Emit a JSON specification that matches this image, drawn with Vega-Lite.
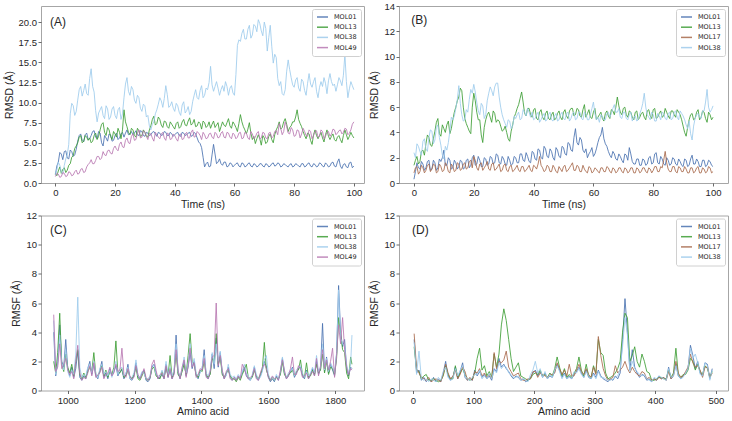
{
"$schema": "https://vega.github.io/schema/vega-lite/v6.json",
"padding": {"left": 3, "top": 0, "right": 2, "bottom": 2},
"config": {
  "font": "Liberation Sans",
  "view": {"stroke": "#a6a6a6", "strokeWidth": 1},
  "axis": {"grid": false, "domain": false, "tickColor": "#444", "tickSize": 3, "tickWidth": 0.8, "labelFontSize": 9.5, "labelColor": "#262626", "labelPadding": 1.5, "titleFontSize": 10.5, "titleFontWeight": "normal", "titleColor": "#262626", "labelFlush": false, "labelOverlap": false},
  "axisX": {"titlePadding": 2},
  "axisY": {"titlePadding": 4},
  "legend": {"orient": "top-right", "offset": 3, "padding": 4, "strokeColor": "#d0d0d0", "fillColor": "#ffffff", "cornerRadius": 2, "labelFont": "DejaVu Sans", "labelFontSize": 6.5, "labelColor": "#262626", "symbolType": "M-1,0H2.67", "symbolSize": 36, "symbolStrokeWidth": 1.5, "labelOffset": 10, "rowPadding": 2.2}
},
"datasets": {
"a": [
{"t":0,"MOL01":1.0,"MOL13":1.2,"MOL38":1.0,"MOL49":0.8},
{"t":1,"MOL01":2.6,"MOL13":1.5,"MOL38":2.6,"MOL49":1.1},
{"t":2,"MOL01":3.6,"MOL13":1.2,"MOL38":1.4,"MOL49":0.8},
{"t":3,"MOL01":3.9,"MOL13":1.9,"MOL38":2.2,"MOL49":1.2},
{"t":4,"MOL01":3.1,"MOL13":1.6,"MOL38":3.5,"MOL49":0.9},
{"t":5,"MOL01":4.1,"MOL13":2.4,"MOL38":8.6,"MOL49":1.3},
{"t":6,"MOL01":3.3,"MOL13":3.4,"MOL38":9.6,"MOL49":1.0},
{"t":7,"MOL01":4.2,"MOL13":4.6,"MOL38":8.9,"MOL49":1.6},
{"t":8,"MOL01":5.9,"MOL13":5.7,"MOL38":11.6,"MOL49":1.2},
{"t":9,"MOL01":5.3,"MOL13":5.0,"MOL38":10.8,"MOL49":1.8},
{"t":10,"MOL01":6.0,"MOL13":5.9,"MOL38":12.3,"MOL49":1.4},
{"t":11,"MOL01":5.4,"MOL13":5.3,"MOL38":10.9,"MOL49":2.3},
{"t":12,"MOL01":5.9,"MOL13":5.0,"MOL38":14.2,"MOL49":2.9},
{"t":13,"MOL01":6.5,"MOL13":5.9,"MOL38":11.3,"MOL49":2.4},
{"t":14,"MOL01":5.5,"MOL13":5.4,"MOL38":7.6,"MOL49":3.3},
{"t":15,"MOL01":6.2,"MOL13":6.6,"MOL38":9.1,"MOL49":2.9},
{"t":16,"MOL01":4.6,"MOL13":7.5,"MOL38":8.4,"MOL49":3.9},
{"t":17,"MOL01":5.6,"MOL13":5.9,"MOL38":9.6,"MOL49":3.4},
{"t":18,"MOL01":6.1,"MOL13":6.6,"MOL38":7.9,"MOL49":4.1},
{"t":19,"MOL01":5.2,"MOL13":5.4,"MOL38":9.2,"MOL49":3.6},
{"t":20,"MOL01":5.9,"MOL13":6.1,"MOL38":8.4,"MOL49":4.6},
{"t":21,"MOL01":5.4,"MOL13":6.8,"MOL38":9.1,"MOL49":4.0},
{"t":22,"MOL01":6.1,"MOL13":5.5,"MOL38":7.9,"MOL49":5.1},
{"t":23,"MOL01":5.7,"MOL13":9.1,"MOL38":10.6,"MOL49":4.4},
{"t":24,"MOL01":6.6,"MOL13":7.0,"MOL38":13.1,"MOL49":5.6},
{"t":25,"MOL01":6.1,"MOL13":6.0,"MOL38":10.9,"MOL49":4.9},
{"t":26,"MOL01":6.0,"MOL13":6.6,"MOL38":11.6,"MOL49":6.1},
{"t":27,"MOL01":6.5,"MOL13":5.7,"MOL38":9.9,"MOL49":5.4},
{"t":28,"MOL01":5.9,"MOL13":6.5,"MOL38":10.6,"MOL49":6.6},
{"t":29,"MOL01":6.4,"MOL13":5.9,"MOL38":8.9,"MOL49":5.7},
{"t":30,"MOL01":5.8,"MOL13":6.3,"MOL38":9.6,"MOL49":6.3},
{"t":31,"MOL01":6.2,"MOL13":5.7,"MOL38":8.4,"MOL49":5.4},
{"t":32,"MOL01":6.0,"MOL13":7.1,"MOL38":6.6,"MOL49":6.1},
{"t":33,"MOL01":6.4,"MOL13":8.3,"MOL38":7.6,"MOL49":5.2},
{"t":34,"MOL01":5.8,"MOL13":7.4,"MOL38":9.1,"MOL49":6.0},
{"t":35,"MOL01":6.2,"MOL13":7.9,"MOL38":10.6,"MOL49":5.5},
{"t":36,"MOL01":6.0,"MOL13":6.9,"MOL38":9.4,"MOL49":6.3},
{"t":37,"MOL01":6.3,"MOL13":7.6,"MOL38":12.1,"MOL49":5.3},
{"t":38,"MOL01":5.9,"MOL13":6.8,"MOL38":9.4,"MOL49":6.1},
{"t":39,"MOL01":6.1,"MOL13":7.3,"MOL38":10.1,"MOL49":5.5},
{"t":40,"MOL01":6.0,"MOL13":6.7,"MOL38":8.9,"MOL49":5.9},
{"t":41,"MOL01":6.3,"MOL13":7.6,"MOL38":9.6,"MOL49":5.2},
{"t":42,"MOL01":5.8,"MOL13":7.0,"MOL38":8.4,"MOL49":6.1},
{"t":43,"MOL01":6.2,"MOL13":7.9,"MOL38":10.1,"MOL49":5.5},
{"t":44,"MOL01":6.0,"MOL13":7.1,"MOL38":9.0,"MOL49":6.3},
{"t":45,"MOL01":6.3,"MOL13":8.1,"MOL38":8.5,"MOL49":5.6},
{"t":46,"MOL01":5.9,"MOL13":7.4,"MOL38":10.1,"MOL49":6.6},
{"t":47,"MOL01":6.1,"MOL13":7.0,"MOL38":11.6,"MOL49":5.8},
{"t":48,"MOL01":5.1,"MOL13":7.6,"MOL38":10.4,"MOL49":6.2},
{"t":49,"MOL01":4.4,"MOL13":6.7,"MOL38":12.1,"MOL49":5.4},
{"t":50,"MOL01":2.0,"MOL13":7.5,"MOL38":10.9,"MOL49":6.0},
{"t":51,"MOL01":2.6,"MOL13":7.1,"MOL38":11.6,"MOL49":5.6},
{"t":52,"MOL01":2.1,"MOL13":6.8,"MOL38":14.5,"MOL49":6.2},
{"t":53,"MOL01":4.8,"MOL13":7.7,"MOL38":11.4,"MOL49":5.5},
{"t":54,"MOL01":2.4,"MOL13":7.2,"MOL38":12.6,"MOL49":6.1},
{"t":55,"MOL01":3.0,"MOL13":6.4,"MOL38":10.9,"MOL49":5.7},
{"t":56,"MOL01":2.2,"MOL13":7.6,"MOL38":12.1,"MOL49":6.4},
{"t":57,"MOL01":2.6,"MOL13":7.0,"MOL38":12.6,"MOL49":5.6},
{"t":58,"MOL01":2.1,"MOL13":8.0,"MOL38":10.9,"MOL49":6.2},
{"t":59,"MOL01":2.4,"MOL13":6.8,"MOL38":12.1,"MOL49":5.5},
{"t":60,"MOL01":2.2,"MOL13":7.3,"MOL38":10.9,"MOL49":6.0},
{"t":61,"MOL01":2.5,"MOL13":6.4,"MOL38":17.1,"MOL49":5.7},
{"t":62,"MOL01":2.0,"MOL13":8.5,"MOL38":17.6,"MOL49":6.3},
{"t":63,"MOL01":2.4,"MOL13":7.0,"MOL38":19.1,"MOL49":5.6},
{"t":64,"MOL01":2.1,"MOL13":6.1,"MOL38":17.9,"MOL49":6.2},
{"t":65,"MOL01":2.5,"MOL13":7.5,"MOL38":19.6,"MOL49":5.4},
{"t":66,"MOL01":2.0,"MOL13":5.4,"MOL38":18.4,"MOL49":6.1},
{"t":67,"MOL01":2.3,"MOL13":4.9,"MOL38":19.5,"MOL49":5.7},
{"t":68,"MOL01":2.1,"MOL13":6.0,"MOL38":20.3,"MOL49":6.4},
{"t":69,"MOL01":2.4,"MOL13":4.7,"MOL38":18.9,"MOL49":5.6},
{"t":70,"MOL01":2.0,"MOL13":5.6,"MOL38":20.0,"MOL49":6.2},
{"t":71,"MOL01":2.3,"MOL13":5.1,"MOL38":16.4,"MOL49":5.5},
{"t":72,"MOL01":2.1,"MOL13":6.1,"MOL38":19.6,"MOL49":6.3},
{"t":73,"MOL01":2.5,"MOL13":5.0,"MOL38":14.9,"MOL49":5.8},
{"t":74,"MOL01":2.2,"MOL13":6.6,"MOL38":15.6,"MOL49":6.5},
{"t":75,"MOL01":2.4,"MOL13":7.6,"MOL38":12.1,"MOL49":7.4},
{"t":76,"MOL01":2.1,"MOL13":6.9,"MOL38":11.1,"MOL49":6.0},
{"t":77,"MOL01":2.3,"MOL13":8.0,"MOL38":11.6,"MOL49":7.6},
{"t":78,"MOL01":2.0,"MOL13":6.4,"MOL38":15.3,"MOL49":6.2},
{"t":79,"MOL01":2.4,"MOL13":7.1,"MOL38":13.1,"MOL49":6.9},
{"t":80,"MOL01":2.1,"MOL13":7.6,"MOL38":11.9,"MOL49":5.8},
{"t":81,"MOL01":2.3,"MOL13":9.1,"MOL38":13.1,"MOL49":6.6},
{"t":82,"MOL01":2.0,"MOL13":7.4,"MOL38":11.4,"MOL49":5.6},
{"t":83,"MOL01":2.4,"MOL13":6.4,"MOL38":12.6,"MOL49":6.8},
{"t":84,"MOL01":2.1,"MOL13":5.5,"MOL38":10.9,"MOL49":5.9},
{"t":85,"MOL01":2.5,"MOL13":6.1,"MOL38":13.6,"MOL49":6.6},
{"t":86,"MOL01":2.0,"MOL13":4.8,"MOL38":11.9,"MOL49":5.5},
{"t":87,"MOL01":2.3,"MOL13":6.6,"MOL38":13.1,"MOL49":6.4},
{"t":88,"MOL01":2.1,"MOL13":5.5,"MOL38":10.6,"MOL49":5.7},
{"t":89,"MOL01":2.4,"MOL13":6.3,"MOL38":12.6,"MOL49":6.6},
{"t":90,"MOL01":2.0,"MOL13":5.1,"MOL38":13.1,"MOL49":5.5},
{"t":91,"MOL01":2.3,"MOL13":6.6,"MOL38":11.1,"MOL49":6.3},
{"t":92,"MOL01":2.1,"MOL13":5.4,"MOL38":13.6,"MOL49":5.8},
{"t":93,"MOL01":2.6,"MOL13":6.1,"MOL38":12.1,"MOL49":6.7},
{"t":94,"MOL01":2.0,"MOL13":5.2,"MOL38":11.4,"MOL49":6.0},
{"t":95,"MOL01":3.0,"MOL13":5.9,"MOL38":13.1,"MOL49":6.5},
{"t":96,"MOL01":1.8,"MOL13":5.0,"MOL38":12.1,"MOL49":6.1},
{"t":97,"MOL01":2.4,"MOL13":6.6,"MOL38":16.0,"MOL49":6.8},
{"t":98,"MOL01":1.9,"MOL13":5.4,"MOL38":10.6,"MOL49":6.0},
{"t":99,"MOL01":2.6,"MOL13":6.3,"MOL38":12.6,"MOL49":6.6},
{"t":100,"MOL01":2.1,"MOL13":5.6,"MOL38":11.6,"MOL49":7.6},
{"t":0.5,"MOL01":2.1,"MOL13":0.9,"MOL38":1.6,"MOL49":1.2},
{"t":1.5,"MOL01":3.8,"MOL13":2.0,"MOL38":2.2,"MOL49":0.7},
{"t":2.5,"MOL01":2.9,"MOL13":1.7,"MOL38":1.1,"MOL49":1.3},
{"t":3.5,"MOL01":4.0,"MOL13":1.3,"MOL38":3.0,"MOL49":0.8},
{"t":4.5,"MOL01":3.0,"MOL13":2.2,"MOL38":4.8,"MOL49":1.4},
{"t":5.5,"MOL01":3.9,"MOL13":3.2,"MOL38":9.9,"MOL49":0.9},
{"t":6.5,"MOL01":3.5,"MOL13":4.3,"MOL38":8.4,"MOL49":1.4},
{"t":7.5,"MOL01":5.2,"MOL13":5.0,"MOL38":10.3,"MOL49":1.1},
{"t":8.5,"MOL01":6.1,"MOL13":5.9,"MOL38":12.0,"MOL49":1.7},
{"t":9.5,"MOL01":5.1,"MOL13":5.2,"MOL38":11.5,"MOL49":1.3},
{"t":10.5,"MOL01":6.2,"MOL13":5.7,"MOL38":11.1,"MOL49":2.0},
{"t":11.5,"MOL01":5.5,"MOL13":5.6,"MOL38":13.0,"MOL49":2.5},
{"t":12.5,"MOL01":6.4,"MOL13":5.2,"MOL38":12.0,"MOL49":2.4},
{"t":13.5,"MOL01":5.7,"MOL13":6.2,"MOL38":9.0,"MOL49":2.8},
{"t":14.5,"MOL01":6.4,"MOL13":5.8,"MOL38":8.7,"MOL49":3.3},
{"t":15.5,"MOL01":5.0,"MOL13":7.3,"MOL38":9.5,"MOL49":3.1},
{"t":16.5,"MOL01":5.9,"MOL13":6.3,"MOL38":8.0,"MOL49":3.5},
{"t":17.5,"MOL01":5.2,"MOL13":6.9,"MOL38":9.2,"MOL49":4.0},
{"t":18.5,"MOL01":6.0,"MOL13":5.8,"MOL38":8.2,"MOL49":3.7},
{"t":19.5,"MOL01":5.3,"MOL13":6.4,"MOL38":9.5,"MOL49":4.3},
{"t":20.5,"MOL01":6.2,"MOL13":5.7,"MOL38":8.0,"MOL49":4.2},
{"t":21.5,"MOL01":5.6,"MOL13":6.3,"MOL38":9.4,"MOL49":4.8},
{"t":22.5,"MOL01":6.3,"MOL13":6.6,"MOL38":8.6,"MOL49":4.5},
{"t":23.5,"MOL01":6.2,"MOL13":7.6,"MOL38":12.3,"MOL49":5.3},
{"t":24.5,"MOL01":6.0,"MOL13":6.3,"MOL38":11.4,"MOL49":5.0},
{"t":25.5,"MOL01":6.4,"MOL13":6.8,"MOL38":12.0,"MOL49":5.8},
{"t":26.5,"MOL01":6.2,"MOL13":5.9,"MOL38":10.3,"MOL49":5.3},
{"t":27.5,"MOL01":6.0,"MOL13":6.8,"MOL38":10.9,"MOL49":6.2},
{"t":28.5,"MOL01":6.5,"MOL13":5.8,"MOL38":9.3,"MOL49":5.6},
{"t":29.5,"MOL01":5.9,"MOL13":6.6,"MOL38":9.8,"MOL49":6.5},
{"t":30.5,"MOL01":6.3,"MOL13":5.8,"MOL38":8.2,"MOL49":5.8},
{"t":31.5,"MOL01":5.9,"MOL13":6.6,"MOL38":7.1,"MOL49":6.2},
{"t":32.5,"MOL01":6.3,"MOL13":7.9,"MOL38":7.3,"MOL49":5.6},
{"t":33.5,"MOL01":6.1,"MOL13":7.2,"MOL38":8.6,"MOL49":6.3},
{"t":34.5,"MOL01":6.3,"MOL13":8.2,"MOL38":9.8,"MOL49":5.7},
{"t":35.5,"MOL01":5.9,"MOL13":7.2,"MOL38":10.2,"MOL49":6.1},
{"t":36.5,"MOL01":6.4,"MOL13":7.7,"MOL38":10.5,"MOL49":5.6},
{"t":37.5,"MOL01":5.9,"MOL13":7.0,"MOL38":11.0,"MOL49":6.2},
{"t":38.5,"MOL01":6.3,"MOL13":7.6,"MOL38":9.6,"MOL49":5.4},
{"t":39.5,"MOL01":5.8,"MOL13":7.0,"MOL38":9.3,"MOL49":6.1},
{"t":40.5,"MOL01":6.2,"MOL13":7.4,"MOL38":9.9,"MOL49":5.5},
{"t":41.5,"MOL01":5.9,"MOL13":6.8,"MOL38":8.8,"MOL49":6.0},
{"t":42.5,"MOL01":6.3,"MOL13":7.6,"MOL38":9.7,"MOL49":5.4},
{"t":43.5,"MOL01":5.9,"MOL13":7.2,"MOL38":8.7,"MOL49":6.1},
{"t":44.5,"MOL01":6.2,"MOL13":7.7,"MOL38":9.5,"MOL49":5.6},
{"t":45.5,"MOL01":5.8,"MOL13":7.2,"MOL38":8.9,"MOL49":6.3},
{"t":46.5,"MOL01":6.3,"MOL13":7.9,"MOL38":10.9,"MOL49":5.7},
{"t":47.5,"MOL01":5.6,"MOL13":7.1,"MOL38":10.6,"MOL49":6.4},
{"t":48.5,"MOL01":4.9,"MOL13":7.4,"MOL38":11.5,"MOL49":5.9},
{"t":49.5,"MOL01":3.2,"MOL13":7.7,"MOL38":10.6,"MOL49":6.3},
{"t":50.5,"MOL01":2.4,"MOL13":6.9,"MOL38":11.8,"MOL49":5.5},
{"t":51.5,"MOL01":2.0,"MOL13":7.6,"MOL38":12.5,"MOL49":6.1},
{"t":52.5,"MOL01":3.5,"MOL13":7.3,"MOL38":12.2,"MOL49":5.7},
{"t":53.5,"MOL01":3.6,"MOL13":6.9,"MOL38":12.0,"MOL49":6.3},
{"t":54.5,"MOL01":2.6,"MOL13":7.5,"MOL38":11.8,"MOL49":5.6},
{"t":55.5,"MOL01":2.4,"MOL13":7.0,"MOL38":11.6,"MOL49":6.2},
{"t":56.5,"MOL01":2.6,"MOL13":7.2,"MOL38":11.4,"MOL49":5.7},
{"t":57.5,"MOL01":2.0,"MOL13":7.5,"MOL38":12.0,"MOL49":6.3},
{"t":58.5,"MOL01":2.5,"MOL13":7.1,"MOL38":11.8,"MOL49":5.7},
{"t":59.5,"MOL01":2.0,"MOL13":7.6,"MOL38":11.2,"MOL49":6.2},
{"t":60.5,"MOL01":2.4,"MOL13":6.9,"MOL38":13.5,"MOL49":5.5},
{"t":61.5,"MOL01":2.1,"MOL13":7.4,"MOL38":17.8,"MOL49":6.2},
{"t":62.5,"MOL01":2.5,"MOL13":7.6,"MOL38":18.6,"MOL49":5.5},
{"t":63.5,"MOL01":2.0,"MOL13":6.6,"MOL38":17.9,"MOL49":6.3},
{"t":64.5,"MOL01":2.4,"MOL13":6.7,"MOL38":19.1,"MOL49":5.6},
{"t":65.5,"MOL01":2.1,"MOL13":6.2,"MOL38":18.0,"MOL49":6.4},
{"t":66.5,"MOL01":2.4,"MOL13":5.8,"MOL38":19.7,"MOL49":5.5},
{"t":67.5,"MOL01":2.0,"MOL13":5.5,"MOL38":18.8,"MOL49":6.2},
{"t":68.5,"MOL01":2.4,"MOL13":5.5,"MOL38":19.8,"MOL49":5.5},
{"t":69.5,"MOL01":2.1,"MOL13":5.9,"MOL38":18.3,"MOL49":6.3},
{"t":70.5,"MOL01":2.4,"MOL13":4.9,"MOL38":19.2,"MOL49":5.6},
{"t":71.5,"MOL01":2.0,"MOL13":5.8,"MOL38":18.1,"MOL49":6.2},
{"t":72.5,"MOL01":2.4,"MOL13":5.4,"MOL38":17.0,"MOL49":5.6},
{"t":73.5,"MOL01":2.1,"MOL13":6.0,"MOL38":16.0,"MOL49":6.4},
{"t":74.5,"MOL01":2.5,"MOL13":7.0,"MOL38":13.0,"MOL49":6.0},
{"t":75.5,"MOL01":2.0,"MOL13":6.7,"MOL38":12.6,"MOL49":6.8},
{"t":76.5,"MOL01":2.4,"MOL13":7.6,"MOL38":10.9,"MOL49":6.4},
{"t":77.5,"MOL01":2.1,"MOL13":7.3,"MOL38":13.9,"MOL49":7.0},
{"t":78.5,"MOL01":2.3,"MOL13":6.9,"MOL38":14.1,"MOL49":6.1},
{"t":79.5,"MOL01":2.0,"MOL13":7.6,"MOL38":12.2,"MOL49":6.6},
{"t":80.5,"MOL01":2.4,"MOL13":8.2,"MOL38":12.8,"MOL49":5.9},
{"t":81.5,"MOL01":2.1,"MOL13":7.9,"MOL38":11.8,"MOL49":6.5},
{"t":82.5,"MOL01":2.4,"MOL13":7.0,"MOL38":12.9,"MOL49":6.1},
{"t":83.5,"MOL01":2.0,"MOL13":5.9,"MOL38":11.5,"MOL49":6.4},
{"t":84.5,"MOL01":2.4,"MOL13":6.2,"MOL38":12.4,"MOL49":5.8},
{"t":85.5,"MOL01":2.1,"MOL13":5.3,"MOL38":12.3,"MOL49":6.4},
{"t":86.5,"MOL01":2.4,"MOL13":6.0,"MOL38":12.6,"MOL49":5.9},
{"t":87.5,"MOL01":2.0,"MOL13":5.9,"MOL38":11.4,"MOL49":6.5},
{"t":88.5,"MOL01":2.5,"MOL13":5.9,"MOL38":11.9,"MOL49":5.8},
{"t":89.5,"MOL01":2.1,"MOL13":5.6,"MOL38":12.0,"MOL49":6.4},
{"t":90.5,"MOL01":2.5,"MOL13":6.0,"MOL38":12.4,"MOL49":5.8},
{"t":91.5,"MOL01":2.0,"MOL13":5.8,"MOL38":12.7,"MOL49":6.4},
{"t":92.5,"MOL01":2.5,"MOL13":5.8,"MOL38":12.6,"MOL49":6.1},
{"t":93.5,"MOL01":2.1,"MOL13":5.4,"MOL38":12.3,"MOL49":6.6},
{"t":94.5,"MOL01":2.6,"MOL13":5.7,"MOL38":12.2,"MOL49":6.2},
{"t":95.5,"MOL01":2.1,"MOL13":5.4,"MOL38":12.7,"MOL49":6.6},
{"t":96.5,"MOL01":2.3,"MOL13":5.9,"MOL38":13.4,"MOL49":6.3},
{"t":97.5,"MOL01":2.0,"MOL13":6.0,"MOL38":12.6,"MOL49":6.7},
{"t":98.5,"MOL01":2.5,"MOL13":5.8,"MOL38":11.7,"MOL49":6.2},
{"t":99.5,"MOL01":1.9,"MOL13":5.9,"MOL38":12.1,"MOL49":7.3}
],
"b": [
{"t":0,"MOL01":0.3,"MOL13":1.4,"MOL17":0.8,"MOL38":2.4},
{"t":1,"MOL01":1.6,"MOL13":2.1,"MOL17":1.3,"MOL38":3.1},
{"t":2,"MOL01":1.1,"MOL13":1.7,"MOL17":0.9,"MOL38":2.5},
{"t":3,"MOL01":1.5,"MOL13":2.6,"MOL17":1.2,"MOL38":3.3},
{"t":4,"MOL01":1.2,"MOL13":3.1,"MOL17":1.0,"MOL38":2.7},
{"t":5,"MOL01":1.8,"MOL13":3.6,"MOL17":1.5,"MOL38":3.6},
{"t":6,"MOL01":1.1,"MOL13":2.9,"MOL17":1.1,"MOL38":4.1},
{"t":7,"MOL01":1.6,"MOL13":4.1,"MOL17":1.4,"MOL38":3.4},
{"t":8,"MOL01":1.2,"MOL13":5.1,"MOL17":0.9,"MOL38":4.6},
{"t":9,"MOL01":1.7,"MOL13":3.7,"MOL17":1.3,"MOL38":3.0},
{"t":10,"MOL01":2.6,"MOL13":4.3,"MOL17":1.0,"MOL38":1.9},
{"t":11,"MOL01":1.4,"MOL13":4.6,"MOL17":1.4,"MOL38":2.6},
{"t":12,"MOL01":1.8,"MOL13":3.9,"MOL17":0.8,"MOL38":4.1},
{"t":13,"MOL01":1.2,"MOL13":5.0,"MOL17":1.3,"MOL38":5.0},
{"t":14,"MOL01":1.6,"MOL13":6.0,"MOL17":1.0,"MOL38":5.9},
{"t":15,"MOL01":1.3,"MOL13":6.8,"MOL17":1.5,"MOL38":7.7},
{"t":16,"MOL01":1.7,"MOL13":7.3,"MOL17":1.1,"MOL38":5.4},
{"t":17,"MOL01":1.2,"MOL13":5.1,"MOL17":1.6,"MOL38":5.0},
{"t":18,"MOL01":1.9,"MOL13":4.4,"MOL17":1.2,"MOL38":5.6},
{"t":19,"MOL01":1.4,"MOL13":3.9,"MOL17":1.8,"MOL38":7.4},
{"t":20,"MOL01":2.2,"MOL13":7.1,"MOL17":2.1,"MOL38":7.8},
{"t":21,"MOL01":1.5,"MOL13":5.6,"MOL17":1.2,"MOL38":6.4},
{"t":22,"MOL01":1.8,"MOL13":5.0,"MOL17":1.5,"MOL38":5.4},
{"t":23,"MOL01":1.3,"MOL13":3.2,"MOL17":1.0,"MOL38":6.1},
{"t":24,"MOL01":1.9,"MOL13":5.0,"MOL17":1.4,"MOL38":5.4},
{"t":25,"MOL01":1.5,"MOL13":5.6,"MOL17":1.1,"MOL38":7.1},
{"t":26,"MOL01":2.0,"MOL13":4.8,"MOL17":1.5,"MOL38":7.3},
{"t":27,"MOL01":1.6,"MOL13":5.5,"MOL17":1.0,"MOL38":7.6},
{"t":28,"MOL01":2.2,"MOL13":5.0,"MOL17":1.3,"MOL38":7.9},
{"t":29,"MOL01":1.5,"MOL13":4.5,"MOL17":0.9,"MOL38":6.0},
{"t":30,"MOL01":1.9,"MOL13":4.2,"MOL17":1.4,"MOL38":5.0},
{"t":31,"MOL01":1.4,"MOL13":4.0,"MOL17":1.0,"MOL38":4.4},
{"t":32,"MOL01":1.8,"MOL13":3.3,"MOL17":1.3,"MOL38":4.9},
{"t":33,"MOL01":1.5,"MOL13":4.6,"MOL17":0.9,"MOL38":4.5},
{"t":34,"MOL01":2.0,"MOL13":5.5,"MOL17":1.2,"MOL38":5.1},
{"t":35,"MOL01":1.6,"MOL13":6.2,"MOL17":1.0,"MOL38":5.6},
{"t":36,"MOL01":2.3,"MOL13":7.2,"MOL17":1.3,"MOL38":5.1},
{"t":37,"MOL01":1.7,"MOL13":5.5,"MOL17":0.9,"MOL38":5.6},
{"t":38,"MOL01":2.1,"MOL13":5.9,"MOL17":1.2,"MOL38":5.9},
{"t":39,"MOL01":1.6,"MOL13":5.4,"MOL17":1.0,"MOL38":5.2},
{"t":40,"MOL01":2.4,"MOL13":5.8,"MOL17":1.4,"MOL38":5.0},
{"t":41,"MOL01":1.8,"MOL13":5.1,"MOL17":1.1,"MOL38":5.4},
{"t":42,"MOL01":2.6,"MOL13":5.6,"MOL17":2.1,"MOL38":4.8},
{"t":43,"MOL01":1.9,"MOL13":5.2,"MOL17":1.2,"MOL38":5.3},
{"t":44,"MOL01":2.7,"MOL13":5.5,"MOL17":1.0,"MOL38":4.9},
{"t":45,"MOL01":2.0,"MOL13":5.1,"MOL17":1.3,"MOL38":5.4},
{"t":46,"MOL01":2.5,"MOL13":5.4,"MOL17":0.9,"MOL38":5.0},
{"t":47,"MOL01":1.8,"MOL13":5.0,"MOL17":1.2,"MOL38":5.3},
{"t":48,"MOL01":2.6,"MOL13":5.5,"MOL17":0.8,"MOL38":4.9},
{"t":49,"MOL01":2.0,"MOL13":5.2,"MOL17":1.1,"MOL38":5.4},
{"t":50,"MOL01":2.8,"MOL13":5.6,"MOL17":1.3,"MOL38":5.1},
{"t":51,"MOL01":2.2,"MOL13":5.3,"MOL17":0.9,"MOL38":5.5},
{"t":52,"MOL01":3.1,"MOL13":5.7,"MOL17":1.2,"MOL38":4.9},
{"t":53,"MOL01":2.5,"MOL13":5.9,"MOL17":1.6,"MOL38":5.5},
{"t":54,"MOL01":4.3,"MOL13":5.4,"MOL17":1.0,"MOL38":5.0},
{"t":55,"MOL01":3.0,"MOL13":5.8,"MOL17":1.3,"MOL38":5.6},
{"t":56,"MOL01":3.4,"MOL13":5.2,"MOL17":0.9,"MOL38":5.1},
{"t":57,"MOL01":2.4,"MOL13":6.2,"MOL17":1.1,"MOL38":5.6},
{"t":58,"MOL01":2.0,"MOL13":5.5,"MOL17":0.8,"MOL38":5.0},
{"t":59,"MOL01":2.5,"MOL13":5.2,"MOL17":1.2,"MOL38":5.4},
{"t":60,"MOL01":2.1,"MOL13":5.6,"MOL17":0.9,"MOL38":6.4},
{"t":61,"MOL01":2.7,"MOL13":5.0,"MOL17":1.1,"MOL38":5.0},
{"t":62,"MOL01":3.6,"MOL13":5.4,"MOL17":0.8,"MOL38":4.8},
{"t":63,"MOL01":4.4,"MOL13":5.1,"MOL17":1.2,"MOL38":5.3},
{"t":64,"MOL01":3.1,"MOL13":5.5,"MOL17":0.9,"MOL38":5.0},
{"t":65,"MOL01":2.5,"MOL13":5.3,"MOL17":1.2,"MOL38":5.6},
{"t":66,"MOL01":2.0,"MOL13":5.8,"MOL17":0.8,"MOL38":5.5},
{"t":67,"MOL01":2.3,"MOL13":5.4,"MOL17":1.1,"MOL38":6.2},
{"t":68,"MOL01":1.8,"MOL13":6.8,"MOL17":0.9,"MOL38":5.6},
{"t":69,"MOL01":2.1,"MOL13":5.6,"MOL17":1.2,"MOL38":5.2},
{"t":70,"MOL01":1.6,"MOL13":5.9,"MOL17":0.8,"MOL38":5.6},
{"t":71,"MOL01":2.2,"MOL13":5.4,"MOL17":1.1,"MOL38":5.1},
{"t":72,"MOL01":2.8,"MOL13":5.7,"MOL17":0.9,"MOL38":5.4},
{"t":73,"MOL01":1.7,"MOL13":5.2,"MOL17":1.2,"MOL38":4.9},
{"t":74,"MOL01":1.5,"MOL13":5.6,"MOL17":0.8,"MOL38":5.3},
{"t":75,"MOL01":1.9,"MOL13":5.0,"MOL17":1.1,"MOL38":5.0},
{"t":76,"MOL01":1.4,"MOL13":5.5,"MOL17":0.9,"MOL38":5.8},
{"t":77,"MOL01":1.8,"MOL13":5.2,"MOL17":1.2,"MOL38":7.1},
{"t":78,"MOL01":1.5,"MOL13":5.7,"MOL17":0.8,"MOL38":5.4},
{"t":79,"MOL01":2.1,"MOL13":5.3,"MOL17":1.1,"MOL38":5.0},
{"t":80,"MOL01":1.6,"MOL13":5.8,"MOL17":1.0,"MOL38":5.4},
{"t":81,"MOL01":2.4,"MOL13":5.1,"MOL17":1.3,"MOL38":4.9},
{"t":82,"MOL01":1.5,"MOL13":5.5,"MOL17":0.9,"MOL38":5.3},
{"t":83,"MOL01":1.9,"MOL13":5.2,"MOL17":1.2,"MOL38":5.6},
{"t":84,"MOL01":1.4,"MOL13":5.9,"MOL17":2.5,"MOL38":5.1},
{"t":85,"MOL01":1.8,"MOL13":5.3,"MOL17":1.1,"MOL38":5.5},
{"t":86,"MOL01":1.5,"MOL13":5.7,"MOL17":0.9,"MOL38":5.0},
{"t":87,"MOL01":1.9,"MOL13":5.4,"MOL17":1.3,"MOL38":5.6},
{"t":88,"MOL01":1.4,"MOL13":5.8,"MOL17":0.8,"MOL38":5.2},
{"t":89,"MOL01":1.7,"MOL13":5.4,"MOL17":1.2,"MOL38":5.7},
{"t":90,"MOL01":1.3,"MOL13":4.5,"MOL17":0.9,"MOL38":5.3},
{"t":91,"MOL01":1.8,"MOL13":3.7,"MOL17":1.1,"MOL38":4.6},
{"t":92,"MOL01":1.4,"MOL13":5.0,"MOL17":0.8,"MOL38":4.9},
{"t":93,"MOL01":2.2,"MOL13":5.5,"MOL17":1.2,"MOL38":3.4},
{"t":94,"MOL01":1.5,"MOL13":5.1,"MOL17":0.9,"MOL38":5.1},
{"t":95,"MOL01":1.7,"MOL13":5.8,"MOL17":1.3,"MOL38":5.5},
{"t":96,"MOL01":1.3,"MOL13":5.2,"MOL17":0.8,"MOL38":5.1},
{"t":97,"MOL01":1.8,"MOL13":5.6,"MOL17":1.1,"MOL38":5.7},
{"t":98,"MOL01":1.4,"MOL13":4.8,"MOL17":0.9,"MOL38":7.4},
{"t":99,"MOL01":1.7,"MOL13":5.4,"MOL17":1.2,"MOL38":5.6},
{"t":100,"MOL01":1.3,"MOL13":5.2,"MOL17":0.9,"MOL38":6.1},
{"t":0.5,"MOL01":0.9,"MOL13":1.8,"MOL17":1.2,"MOL38":2.0},
{"t":1.5,"MOL01":1.2,"MOL13":1.5,"MOL17":0.7,"MOL38":2.9},
{"t":2.5,"MOL01":1.7,"MOL13":2.5,"MOL17":1.4,"MOL38":2.2},
{"t":3.5,"MOL01":1.0,"MOL13":2.2,"MOL17":0.8,"MOL38":3.5},
{"t":4.5,"MOL01":1.7,"MOL13":3.8,"MOL17":1.4,"MOL38":2.5},
{"t":5.5,"MOL01":1.0,"MOL13":3.0,"MOL17":0.9,"MOL38":4.2},
{"t":6.5,"MOL01":1.8,"MOL13":3.5,"MOL17":1.5,"MOL38":3.1},
{"t":7.5,"MOL01":1.0,"MOL13":4.8,"MOL17":0.8,"MOL38":4.4},
{"t":8.5,"MOL01":1.9,"MOL13":3.9,"MOL17":1.5,"MOL38":3.6},
{"t":9.5,"MOL01":2.0,"MOL13":4.6,"MOL17":0.9,"MOL38":2.2},
{"t":10.5,"MOL01":1.4,"MOL13":4.0,"MOL17":1.6,"MOL38":2.9},
{"t":11.5,"MOL01":2.0,"MOL13":4.9,"MOL17":0.9,"MOL38":3.2},
{"t":12.5,"MOL01":1.1,"MOL13":4.3,"MOL17":1.5,"MOL38":5.2},
{"t":13.5,"MOL01":1.8,"MOL13":5.6,"MOL17":0.9,"MOL38":5.3},
{"t":14.5,"MOL01":1.1,"MOL13":6.5,"MOL17":1.6,"MOL38":6.6},
{"t":15.5,"MOL01":1.8,"MOL13":7.5,"MOL17":1.0,"MOL38":6.3},
{"t":16.5,"MOL01":1.1,"MOL13":6.0,"MOL17":1.5,"MOL38":4.9},
{"t":17.5,"MOL01":1.8,"MOL13":4.7,"MOL17":1.1,"MOL38":5.8},
{"t":18.5,"MOL01":1.2,"MOL13":4.1,"MOL17":1.7,"MOL38":6.6},
{"t":19.5,"MOL01":2.0,"MOL13":6.0,"MOL17":1.2,"MOL38":7.1},
{"t":20.5,"MOL01":1.4,"MOL13":6.5,"MOL17":1.8,"MOL38":7.2},
{"t":21.5,"MOL01":2.1,"MOL13":5.0,"MOL17":1.0,"MOL38":5.7},
{"t":22.5,"MOL01":1.3,"MOL13":3.8,"MOL17":1.6,"MOL38":6.3},
{"t":23.5,"MOL01":2.0,"MOL13":4.4,"MOL17":1.2,"MOL38":5.1},
{"t":24.5,"MOL01":1.4,"MOL13":5.4,"MOL17":1.7,"MOL38":6.5},
{"t":25.5,"MOL01":2.1,"MOL13":5.2,"MOL17":1.0,"MOL38":7.6},
{"t":26.5,"MOL01":1.5,"MOL13":5.7,"MOL17":1.6,"MOL38":6.9},
{"t":27.5,"MOL01":2.3,"MOL13":4.8,"MOL17":1.1,"MOL38":7.9},
{"t":28.5,"MOL01":1.6,"MOL13":4.9,"MOL17":1.5,"MOL38":6.8},
{"t":29.5,"MOL01":2.1,"MOL13":4.1,"MOL17":1.0,"MOL38":5.4},
{"t":30.5,"MOL01":1.5,"MOL13":4.5,"MOL17":1.5,"MOL38":4.7},
{"t":31.5,"MOL01":2.1,"MOL13":3.5,"MOL17":0.9,"MOL38":5.0},
{"t":32.5,"MOL01":1.4,"MOL13":4.1,"MOL17":1.4,"MOL38":4.3},
{"t":33.5,"MOL01":2.1,"MOL13":5.2,"MOL17":1.0,"MOL38":5.3},
{"t":34.5,"MOL01":1.6,"MOL13":5.9,"MOL17":1.4,"MOL38":5.4},
{"t":35.5,"MOL01":2.3,"MOL13":6.7,"MOL17":0.9,"MOL38":5.0},
{"t":36.5,"MOL01":1.8,"MOL13":6.4,"MOL17":1.3,"MOL38":5.8},
{"t":37.5,"MOL01":2.4,"MOL13":5.3,"MOL17":1.0,"MOL38":5.3},
{"t":38.5,"MOL01":1.7,"MOL13":5.9,"MOL17":1.4,"MOL38":5.6},
{"t":39.5,"MOL01":2.5,"MOL13":5.2,"MOL17":0.9,"MOL38":5.6},
{"t":40.5,"MOL01":1.9,"MOL13":5.9,"MOL17":1.3,"MOL38":5.1},
{"t":41.5,"MOL01":2.7,"MOL13":5.0,"MOL17":1.5,"MOL38":5.6},
{"t":42.5,"MOL01":2.0,"MOL13":5.8,"MOL17":1.4,"MOL38":5.0},
{"t":43.5,"MOL01":2.9,"MOL13":5.0,"MOL17":0.9,"MOL38":5.5},
{"t":44.5,"MOL01":2.1,"MOL13":5.7,"MOL17":1.4,"MOL38":5.0},
{"t":45.5,"MOL01":2.7,"MOL13":5.0,"MOL17":0.9,"MOL38":5.6},
{"t":46.5,"MOL01":2.0,"MOL13":5.6,"MOL17":1.4,"MOL38":4.9},
{"t":47.5,"MOL01":2.8,"MOL13":5.1,"MOL17":0.9,"MOL38":5.5},
{"t":48.5,"MOL01":2.1,"MOL13":5.7,"MOL17":1.3,"MOL38":5.0},
{"t":49.5,"MOL01":2.9,"MOL13":5.0,"MOL17":0.9,"MOL38":5.6},
{"t":50.5,"MOL01":2.3,"MOL13":5.8,"MOL17":1.4,"MOL38":5.0},
{"t":51.5,"MOL01":3.2,"MOL13":5.1,"MOL17":1.0,"MOL38":5.6},
{"t":52.5,"MOL01":2.6,"MOL13":5.9,"MOL17":1.4,"MOL38":5.1},
{"t":53.5,"MOL01":3.6,"MOL13":5.3,"MOL17":1.0,"MOL38":5.6},
{"t":54.5,"MOL01":3.2,"MOL13":5.9,"MOL17":1.4,"MOL38":5.1},
{"t":55.5,"MOL01":3.6,"MOL13":5.3,"MOL17":0.9,"MOL38":5.6},
{"t":56.5,"MOL01":2.6,"MOL13":5.8,"MOL17":1.4,"MOL38":5.0},
{"t":57.5,"MOL01":2.7,"MOL13":5.2,"MOL17":0.9,"MOL38":5.5},
{"t":58.5,"MOL01":2.3,"MOL13":5.8,"MOL17":1.3,"MOL38":5.0},
{"t":59.5,"MOL01":2.8,"MOL13":5.1,"MOL17":0.8,"MOL38":5.9},
{"t":60.5,"MOL01":2.3,"MOL13":5.9,"MOL17":1.2,"MOL38":5.5},
{"t":61.5,"MOL01":3.2,"MOL13":5.2,"MOL17":0.9,"MOL38":5.2},
{"t":62.5,"MOL01":3.8,"MOL13":5.6,"MOL17":1.2,"MOL38":5.4},
{"t":63.5,"MOL01":3.5,"MOL13":4.9,"MOL17":0.9,"MOL38":5.0},
{"t":64.5,"MOL01":2.9,"MOL13":5.7,"MOL17":1.3,"MOL38":5.5},
{"t":65.5,"MOL01":2.2,"MOL13":5.1,"MOL17":0.9,"MOL38":5.2},
{"t":66.5,"MOL01":2.5,"MOL13":5.7,"MOL17":1.2,"MOL38":5.9},
{"t":67.5,"MOL01":1.9,"MOL13":6.0,"MOL17":0.8,"MOL38":5.6},
{"t":68.5,"MOL01":2.3,"MOL13":6.1,"MOL17":1.2,"MOL38":5.9},
{"t":69.5,"MOL01":1.8,"MOL13":5.4,"MOL17":0.9,"MOL38":5.1},
{"t":70.5,"MOL01":2.3,"MOL13":6.0,"MOL17":1.2,"MOL38":5.6},
{"t":71.5,"MOL01":1.8,"MOL13":5.2,"MOL17":0.8,"MOL38":5.0},
{"t":72.5,"MOL01":2.3,"MOL13":5.6,"MOL17":1.2,"MOL38":5.6},
{"t":73.5,"MOL01":1.5,"MOL13":5.0,"MOL17":0.8,"MOL38":5.2},
{"t":74.5,"MOL01":1.9,"MOL13":5.7,"MOL17":1.2,"MOL38":4.9},
{"t":75.5,"MOL01":1.4,"MOL13":5.2,"MOL17":0.8,"MOL38":5.5},
{"t":76.5,"MOL01":1.9,"MOL13":5.6,"MOL17":1.2,"MOL38":6.3},
{"t":77.5,"MOL01":1.4,"MOL13":5.0,"MOL17":0.9,"MOL38":6.0},
{"t":78.5,"MOL01":2.0,"MOL13":5.8,"MOL17":1.2,"MOL38":5.2},
{"t":79.5,"MOL01":1.5,"MOL13":5.1,"MOL17":0.8,"MOL38":5.6},
{"t":80.5,"MOL01":2.3,"MOL13":5.9,"MOL17":1.3,"MOL38":4.9},
{"t":81.5,"MOL01":1.6,"MOL13":5.2,"MOL17":0.9,"MOL38":5.5},
{"t":82.5,"MOL01":2.1,"MOL13":5.7,"MOL17":1.3,"MOL38":5.0},
{"t":83.5,"MOL01":1.5,"MOL13":5.3,"MOL17":1.8,"MOL38":5.5},
{"t":84.5,"MOL01":2.0,"MOL13":5.6,"MOL17":1.6,"MOL38":5.0},
{"t":85.5,"MOL01":1.4,"MOL13":5.1,"MOL17":0.9,"MOL38":5.6},
{"t":86.5,"MOL01":2.0,"MOL13":5.7,"MOL17":1.3,"MOL38":5.1},
{"t":87.5,"MOL01":1.5,"MOL13":5.2,"MOL17":0.9,"MOL38":5.7},
{"t":88.5,"MOL01":1.9,"MOL13":5.6,"MOL17":1.3,"MOL38":5.0},
{"t":89.5,"MOL01":1.4,"MOL13":5.0,"MOL17":0.9,"MOL38":5.5},
{"t":90.5,"MOL01":1.9,"MOL13":4.0,"MOL17":1.3,"MOL38":5.0},
{"t":91.5,"MOL01":1.3,"MOL13":4.4,"MOL17":0.8,"MOL38":4.3},
{"t":92.5,"MOL01":1.9,"MOL13":5.4,"MOL17":1.2,"MOL38":3.9},
{"t":93.5,"MOL01":1.5,"MOL13":5.0,"MOL17":0.8,"MOL38":4.5},
{"t":94.5,"MOL01":1.9,"MOL13":5.6,"MOL17":1.2,"MOL38":5.4},
{"t":95.5,"MOL01":1.3,"MOL13":5.0,"MOL17":0.8,"MOL38":5.2},
{"t":96.5,"MOL01":1.8,"MOL13":5.7,"MOL17":1.2,"MOL38":5.7},
{"t":97.5,"MOL01":1.3,"MOL13":5.1,"MOL17":0.8,"MOL38":6.4},
{"t":98.5,"MOL01":1.8,"MOL13":5.6,"MOL17":1.3,"MOL38":6.0},
{"t":99.5,"MOL01":1.4,"MOL13":5.0,"MOL17":0.8,"MOL38":5.8}
],
"c": [
{"r":958,"MOL01":4.0,"MOL13":2.0,"MOL38":4.8,"MOL49":5.2},
{"r":964,"MOL01":1.0,"MOL13":1.2,"MOL38":1.1,"MOL49":1.3},
{"r":970,"MOL01":2.0,"MOL13":2.6,"MOL38":1.8,"MOL49":1.6},
{"r":976,"MOL01":4.5,"MOL13":5.3,"MOL38":3.8,"MOL49":3.2},
{"r":982,"MOL01":2.0,"MOL13":1.8,"MOL38":1.9,"MOL49":1.5},
{"r":988,"MOL01":1.6,"MOL13":1.3,"MOL38":1.4,"MOL49":1.8},
{"r":994,"MOL01":3.5,"MOL13":2.5,"MOL38":2.8,"MOL49":2.2},
{"r":1000,"MOL01":1.5,"MOL13":1.6,"MOL38":1.3,"MOL49":1.4},
{"r":1006,"MOL01":1.0,"MOL13":1.2,"MOL38":0.9,"MOL49":1.1},
{"r":1012,"MOL01":1.6,"MOL13":1.8,"MOL38":1.4,"MOL49":1.3},
{"r":1018,"MOL01":0.9,"MOL13":1.0,"MOL38":1.1,"MOL49":0.8},
{"r":1024,"MOL01":1.5,"MOL13":2.0,"MOL38":2.5,"MOL49":2.0},
{"r":1030,"MOL01":2.7,"MOL13":2.8,"MOL38":6.4,"MOL49":3.1},
{"r":1036,"MOL01":0.9,"MOL13":1.1,"MOL38":1.6,"MOL49":1.2},
{"r":1042,"MOL01":0.7,"MOL13":0.8,"MOL38":0.9,"MOL49":0.7},
{"r":1048,"MOL01":1.0,"MOL13":1.2,"MOL38":1.1,"MOL49":0.9},
{"r":1054,"MOL01":0.8,"MOL13":0.9,"MOL38":1.0,"MOL49":0.8},
{"r":1060,"MOL01":1.5,"MOL13":1.3,"MOL38":1.6,"MOL49":1.2},
{"r":1066,"MOL01":2.0,"MOL13":1.6,"MOL38":1.8,"MOL49":1.7},
{"r":1072,"MOL01":1.1,"MOL13":1.3,"MOL38":1.2,"MOL49":1.0},
{"r":1078,"MOL01":1.8,"MOL13":2.6,"MOL38":2.0,"MOL49":1.9},
{"r":1084,"MOL01":1.0,"MOL13":1.1,"MOL38":1.2,"MOL49":0.9},
{"r":1090,"MOL01":0.8,"MOL13":1.0,"MOL38":0.9,"MOL49":1.1},
{"r":1096,"MOL01":1.4,"MOL13":1.3,"MOL38":1.5,"MOL49":1.2},
{"r":1102,"MOL01":2.0,"MOL13":1.7,"MOL38":1.8,"MOL49":1.6},
{"r":1108,"MOL01":0.9,"MOL13":1.0,"MOL38":1.1,"MOL49":0.8},
{"r":1114,"MOL01":1.2,"MOL13":1.4,"MOL38":1.3,"MOL49":1.1},
{"r":1120,"MOL01":0.8,"MOL13":0.9,"MOL38":1.0,"MOL49":1.2},
{"r":1126,"MOL01":1.5,"MOL13":1.3,"MOL38":1.4,"MOL49":1.6},
{"r":1132,"MOL01":1.0,"MOL13":1.1,"MOL38":0.9,"MOL49":1.0},
{"r":1138,"MOL01":1.3,"MOL13":1.6,"MOL38":1.4,"MOL49":1.2},
{"r":1144,"MOL01":1.7,"MOL13":3.4,"MOL38":2.0,"MOL49":1.8},
{"r":1150,"MOL01":1.0,"MOL13":1.2,"MOL38":1.1,"MOL49":1.3},
{"r":1156,"MOL01":1.3,"MOL13":1.2,"MOL38":1.5,"MOL49":1.4},
{"r":1162,"MOL01":1.4,"MOL13":1.5,"MOL38":1.6,"MOL49":2.9},
{"r":1168,"MOL01":0.8,"MOL13":0.9,"MOL38":1.0,"MOL49":1.1},
{"r":1174,"MOL01":1.1,"MOL13":1.0,"MOL38":1.2,"MOL49":0.9},
{"r":1180,"MOL01":1.8,"MOL13":1.4,"MOL38":1.6,"MOL49":1.5},
{"r":1186,"MOL01":0.8,"MOL13":0.9,"MOL38":0.8,"MOL49":1.0},
{"r":1192,"MOL01":0.7,"MOL13":0.8,"MOL38":0.9,"MOL49":0.8},
{"r":1198,"MOL01":1.0,"MOL13":1.1,"MOL38":1.2,"MOL49":0.9},
{"r":1204,"MOL01":1.9,"MOL13":1.6,"MOL38":2.1,"MOL49":1.7},
{"r":1210,"MOL01":0.9,"MOL13":0.8,"MOL38":1.0,"MOL49":1.1},
{"r":1216,"MOL01":0.8,"MOL13":0.7,"MOL38":0.9,"MOL49":0.8},
{"r":1222,"MOL01":1.2,"MOL13":1.0,"MOL38":1.3,"MOL49":1.1},
{"r":1228,"MOL01":1.4,"MOL13":1.3,"MOL38":1.2,"MOL49":1.5},
{"r":1234,"MOL01":0.7,"MOL13":0.8,"MOL38":0.8,"MOL49":0.9},
{"r":1240,"MOL01":0.6,"MOL13":0.7,"MOL38":0.8,"MOL49":0.7},
{"r":1246,"MOL01":0.8,"MOL13":0.9,"MOL38":1.0,"MOL49":0.9},
{"r":1252,"MOL01":1.6,"MOL13":1.5,"MOL38":1.7,"MOL49":1.8},
{"r":1258,"MOL01":1.8,"MOL13":1.6,"MOL38":1.7,"MOL49":2.1},
{"r":1264,"MOL01":1.2,"MOL13":1.0,"MOL38":1.1,"MOL49":1.4},
{"r":1270,"MOL01":0.8,"MOL13":0.9,"MOL38":1.0,"MOL49":0.8},
{"r":1276,"MOL01":0.9,"MOL13":0.8,"MOL38":1.0,"MOL49":1.1},
{"r":1282,"MOL01":1.1,"MOL13":1.3,"MOL38":1.4,"MOL49":1.2},
{"r":1288,"MOL01":0.8,"MOL13":0.9,"MOL38":1.0,"MOL49":0.8},
{"r":1294,"MOL01":1.8,"MOL13":1.6,"MOL38":2.0,"MOL49":1.7},
{"r":1300,"MOL01":0.9,"MOL13":1.0,"MOL38":1.1,"MOL49":0.9},
{"r":1306,"MOL01":1.4,"MOL13":2.4,"MOL38":1.6,"MOL49":1.5},
{"r":1312,"MOL01":0.8,"MOL13":0.9,"MOL38":1.0,"MOL49":0.8},
{"r":1318,"MOL01":1.2,"MOL13":1.3,"MOL38":1.4,"MOL49":1.1},
{"r":1324,"MOL01":3.8,"MOL13":2.5,"MOL38":3.2,"MOL49":2.8},
{"r":1330,"MOL01":1.2,"MOL13":1.1,"MOL38":1.3,"MOL49":1.4},
{"r":1336,"MOL01":0.8,"MOL13":0.9,"MOL38":1.0,"MOL49":0.8},
{"r":1342,"MOL01":1.4,"MOL13":1.3,"MOL38":1.5,"MOL49":1.6},
{"r":1348,"MOL01":2.0,"MOL13":1.8,"MOL38":2.3,"MOL49":2.1},
{"r":1354,"MOL01":1.0,"MOL13":1.1,"MOL38":1.2,"MOL49":0.9},
{"r":1360,"MOL01":1.6,"MOL13":2.4,"MOL38":1.8,"MOL49":1.7},
{"r":1366,"MOL01":2.6,"MOL13":3.9,"MOL38":3.2,"MOL49":2.9},
{"r":1372,"MOL01":1.5,"MOL13":2.0,"MOL38":1.7,"MOL49":1.6},
{"r":1378,"MOL01":2.0,"MOL13":1.8,"MOL38":2.2,"MOL49":1.9},
{"r":1384,"MOL01":1.0,"MOL13":1.1,"MOL38":1.2,"MOL49":0.9},
{"r":1390,"MOL01":0.8,"MOL13":0.9,"MOL38":1.0,"MOL49":1.1},
{"r":1396,"MOL01":1.3,"MOL13":1.4,"MOL38":1.2,"MOL49":1.5},
{"r":1402,"MOL01":1.5,"MOL13":1.3,"MOL38":1.6,"MOL49":1.4},
{"r":1408,"MOL01":2.8,"MOL13":2.0,"MOL38":2.4,"MOL49":2.2},
{"r":1414,"MOL01":1.0,"MOL13":1.1,"MOL38":1.2,"MOL49":0.9},
{"r":1420,"MOL01":0.8,"MOL13":0.9,"MOL38":1.0,"MOL49":0.8},
{"r":1426,"MOL01":1.2,"MOL13":1.1,"MOL38":1.4,"MOL49":1.3},
{"r":1432,"MOL01":2.5,"MOL13":2.2,"MOL38":2.6,"MOL49":2.3},
{"r":1438,"MOL01":1.5,"MOL13":2.0,"MOL38":1.8,"MOL49":2.4},
{"r":1444,"MOL01":3.6,"MOL13":3.9,"MOL38":3.2,"MOL49":6.0},
{"r":1450,"MOL01":1.6,"MOL13":1.8,"MOL38":2.0,"MOL49":1.7},
{"r":1456,"MOL01":2.6,"MOL13":2.3,"MOL38":2.7,"MOL49":2.4},
{"r":1462,"MOL01":1.2,"MOL13":1.1,"MOL38":1.3,"MOL49":1.4},
{"r":1468,"MOL01":0.8,"MOL13":0.9,"MOL38":1.0,"MOL49":0.8},
{"r":1474,"MOL01":1.1,"MOL13":1.2,"MOL38":1.0,"MOL49":1.3},
{"r":1480,"MOL01":1.6,"MOL13":1.4,"MOL38":1.8,"MOL49":1.5},
{"r":1486,"MOL01":0.9,"MOL13":1.0,"MOL38":1.1,"MOL49":0.8},
{"r":1492,"MOL01":0.7,"MOL13":0.8,"MOL38":0.9,"MOL49":0.7},
{"r":1498,"MOL01":0.9,"MOL13":0.8,"MOL38":1.0,"MOL49":0.9},
{"r":1504,"MOL01":0.7,"MOL13":0.6,"MOL38":0.8,"MOL49":0.7},
{"r":1510,"MOL01":1.0,"MOL13":0.9,"MOL38":1.1,"MOL49":1.0},
{"r":1516,"MOL01":0.8,"MOL13":0.7,"MOL38":0.9,"MOL49":0.8},
{"r":1522,"MOL01":1.2,"MOL13":1.1,"MOL38":1.3,"MOL49":1.8},
{"r":1528,"MOL01":1.6,"MOL13":1.4,"MOL38":1.8,"MOL49":1.5},
{"r":1534,"MOL01":1.0,"MOL13":1.8,"MOL38":1.2,"MOL49":1.1},
{"r":1540,"MOL01":0.8,"MOL13":0.9,"MOL38":1.0,"MOL49":0.8},
{"r":1546,"MOL01":0.7,"MOL13":0.8,"MOL38":0.7,"MOL49":0.9},
{"r":1552,"MOL01":1.0,"MOL13":0.9,"MOL38":1.1,"MOL49":1.0},
{"r":1558,"MOL01":1.6,"MOL13":1.4,"MOL38":1.7,"MOL49":1.5},
{"r":1564,"MOL01":0.9,"MOL13":1.0,"MOL38":1.1,"MOL49":0.8},
{"r":1570,"MOL01":0.7,"MOL13":0.8,"MOL38":0.8,"MOL49":0.7},
{"r":1576,"MOL01":1.0,"MOL13":1.1,"MOL38":0.9,"MOL49":1.2},
{"r":1582,"MOL01":1.4,"MOL13":1.5,"MOL38":1.3,"MOL49":1.6},
{"r":1588,"MOL01":2.0,"MOL13":3.3,"MOL38":2.1,"MOL49":1.8},
{"r":1594,"MOL01":1.6,"MOL13":1.4,"MOL38":2.4,"MOL49":1.5},
{"r":1600,"MOL01":0.9,"MOL13":1.0,"MOL38":1.1,"MOL49":0.9},
{"r":1606,"MOL01":0.6,"MOL13":0.7,"MOL38":0.8,"MOL49":0.7},
{"r":1612,"MOL01":0.8,"MOL13":0.9,"MOL38":0.9,"MOL49":1.0},
{"r":1618,"MOL01":0.6,"MOL13":0.7,"MOL38":0.7,"MOL49":0.8},
{"r":1624,"MOL01":1.0,"MOL13":0.9,"MOL38":1.1,"MOL49":0.9},
{"r":1630,"MOL01":0.7,"MOL13":0.8,"MOL38":0.8,"MOL49":0.7},
{"r":1636,"MOL01":1.2,"MOL13":1.1,"MOL38":1.3,"MOL49":1.4},
{"r":1642,"MOL01":2.2,"MOL13":2.0,"MOL38":2.3,"MOL49":2.1},
{"r":1648,"MOL01":1.2,"MOL13":1.1,"MOL38":1.3,"MOL49":1.4},
{"r":1654,"MOL01":0.8,"MOL13":0.9,"MOL38":0.9,"MOL49":0.8},
{"r":1660,"MOL01":1.0,"MOL13":1.1,"MOL38":1.2,"MOL49":1.0},
{"r":1666,"MOL01":1.3,"MOL13":1.2,"MOL38":1.4,"MOL49":1.5},
{"r":1672,"MOL01":1.6,"MOL13":1.4,"MOL38":1.5,"MOL49":2.3},
{"r":1678,"MOL01":0.9,"MOL13":1.0,"MOL38":1.0,"MOL49":1.1},
{"r":1684,"MOL01":1.2,"MOL13":1.3,"MOL38":1.4,"MOL49":1.1},
{"r":1690,"MOL01":1.5,"MOL13":1.4,"MOL38":1.6,"MOL49":1.7},
{"r":1696,"MOL01":1.6,"MOL13":2.1,"MOL38":1.7,"MOL49":1.5},
{"r":1702,"MOL01":1.0,"MOL13":1.1,"MOL38":1.2,"MOL49":0.9},
{"r":1708,"MOL01":0.8,"MOL13":0.9,"MOL38":0.9,"MOL49":1.0},
{"r":1714,"MOL01":1.4,"MOL13":1.9,"MOL38":1.3,"MOL49":1.2},
{"r":1720,"MOL01":0.8,"MOL13":0.9,"MOL38":1.0,"MOL49":0.8},
{"r":1726,"MOL01":1.1,"MOL13":1.0,"MOL38":1.2,"MOL49":1.1},
{"r":1732,"MOL01":1.5,"MOL13":1.4,"MOL38":1.6,"MOL49":1.3},
{"r":1738,"MOL01":1.0,"MOL13":1.1,"MOL38":1.2,"MOL49":1.0},
{"r":1744,"MOL01":2.0,"MOL13":1.8,"MOL38":2.4,"MOL49":2.2},
{"r":1750,"MOL01":1.1,"MOL13":1.2,"MOL38":1.3,"MOL49":1.0},
{"r":1756,"MOL01":1.5,"MOL13":1.4,"MOL38":1.6,"MOL49":1.7},
{"r":1762,"MOL01":4.6,"MOL13":2.5,"MOL38":3.2,"MOL49":2.8},
{"r":1768,"MOL01":1.3,"MOL13":1.2,"MOL38":1.4,"MOL49":1.5},
{"r":1774,"MOL01":2.3,"MOL13":2.0,"MOL38":2.2,"MOL49":2.1},
{"r":1780,"MOL01":1.2,"MOL13":1.1,"MOL38":1.3,"MOL49":1.4},
{"r":1786,"MOL01":1.8,"MOL13":1.6,"MOL38":1.9,"MOL49":2.0},
{"r":1792,"MOL01":1.4,"MOL13":1.5,"MOL38":1.6,"MOL49":2.9},
{"r":1798,"MOL01":1.0,"MOL13":1.1,"MOL38":1.2,"MOL49":0.9},
{"r":1804,"MOL01":2.5,"MOL13":2.2,"MOL38":2.6,"MOL49":2.4},
{"r":1810,"MOL01":7.2,"MOL13":5.0,"MOL38":6.9,"MOL49":4.5},
{"r":1816,"MOL01":4.0,"MOL13":3.9,"MOL38":3.6,"MOL49":3.2},
{"r":1822,"MOL01":3.0,"MOL13":2.8,"MOL38":3.2,"MOL49":5.0},
{"r":1828,"MOL01":3.5,"MOL13":2.6,"MOL38":3.0,"MOL49":2.8},
{"r":1834,"MOL01":1.5,"MOL13":1.2,"MOL38":1.8,"MOL49":1.6},
{"r":1840,"MOL01":1.0,"MOL13":0.8,"MOL38":1.2,"MOL49":1.1},
{"r":1846,"MOL01":1.6,"MOL13":2.3,"MOL38":1.8,"MOL49":1.5},
{"r":1850,"MOL01":1.5,"MOL13":1.8,"MOL38":3.8,"MOL49":1.4}
],
"d": [
{"r":2,"MOL01":3.5,"MOL13":3.0,"MOL17":3.9,"MOL38":3.3},
{"r":6,"MOL01":1.2,"MOL13":1.4,"MOL17":1.5,"MOL38":1.1},
{"r":10,"MOL01":1.4,"MOL13":1.3,"MOL17":1.2,"MOL38":2.7},
{"r":14,"MOL01":0.7,"MOL13":0.8,"MOL17":0.9,"MOL38":0.8},
{"r":18,"MOL01":0.9,"MOL13":1.0,"MOL17":0.8,"MOL38":0.7},
{"r":22,"MOL01":0.6,"MOL13":1.1,"MOL17":0.7,"MOL38":0.8},
{"r":26,"MOL01":0.8,"MOL13":0.7,"MOL17":0.9,"MOL38":0.6},
{"r":30,"MOL01":0.6,"MOL13":0.7,"MOL17":0.6,"MOL38":0.8},
{"r":34,"MOL01":0.9,"MOL13":0.8,"MOL17":0.7,"MOL38":0.7},
{"r":38,"MOL01":0.6,"MOL13":0.7,"MOL17":0.8,"MOL38":0.6},
{"r":42,"MOL01":0.8,"MOL13":0.6,"MOL17":0.7,"MOL38":0.9},
{"r":46,"MOL01":0.6,"MOL13":0.7,"MOL17":0.6,"MOL38":0.7},
{"r":50,"MOL01":1.2,"MOL13":1.0,"MOL17":1.1,"MOL38":1.3},
{"r":54,"MOL01":2.0,"MOL13":1.7,"MOL17":1.8,"MOL38":1.6},
{"r":58,"MOL01":1.0,"MOL13":1.1,"MOL17":1.2,"MOL38":0.9},
{"r":62,"MOL01":0.7,"MOL13":0.8,"MOL17":0.8,"MOL38":0.7},
{"r":66,"MOL01":0.9,"MOL13":0.8,"MOL17":1.0,"MOL38":0.8},
{"r":70,"MOL01":1.6,"MOL13":1.7,"MOL17":1.4,"MOL38":1.5},
{"r":74,"MOL01":0.8,"MOL13":0.9,"MOL17":0.8,"MOL38":1.0},
{"r":78,"MOL01":1.3,"MOL13":1.2,"MOL17":1.1,"MOL38":1.4},
{"r":82,"MOL01":1.9,"MOL13":1.5,"MOL17":1.6,"MOL38":1.7},
{"r":86,"MOL01":0.9,"MOL13":1.1,"MOL17":1.3,"MOL38":1.0},
{"r":90,"MOL01":0.7,"MOL13":0.8,"MOL17":0.7,"MOL38":0.8},
{"r":94,"MOL01":0.8,"MOL13":0.7,"MOL17":0.9,"MOL38":0.7},
{"r":98,"MOL01":0.7,"MOL13":0.8,"MOL17":0.7,"MOL38":0.9},
{"r":102,"MOL01":1.4,"MOL13":1.2,"MOL17":1.3,"MOL38":1.1},
{"r":106,"MOL01":1.0,"MOL13":2.2,"MOL17":1.2,"MOL38":1.1},
{"r":110,"MOL01":1.3,"MOL13":2.9,"MOL17":1.5,"MOL38":1.4},
{"r":114,"MOL01":0.9,"MOL13":1.4,"MOL17":1.0,"MOL38":0.8},
{"r":118,"MOL01":1.1,"MOL13":1.7,"MOL17":1.2,"MOL38":1.0},
{"r":122,"MOL01":0.8,"MOL13":1.0,"MOL17":0.9,"MOL38":0.8},
{"r":126,"MOL01":1.0,"MOL13":1.3,"MOL17":1.1,"MOL38":1.2},
{"r":130,"MOL01":0.7,"MOL13":0.9,"MOL17":0.8,"MOL38":0.8},
{"r":134,"MOL01":1.5,"MOL13":2.5,"MOL17":2.6,"MOL38":1.4},
{"r":138,"MOL01":1.3,"MOL13":1.6,"MOL17":1.5,"MOL38":1.2},
{"r":142,"MOL01":2.2,"MOL13":2.5,"MOL17":2.0,"MOL38":1.9},
{"r":146,"MOL01":1.6,"MOL13":4.5,"MOL17":1.9,"MOL38":1.5},
{"r":150,"MOL01":1.8,"MOL13":5.6,"MOL17":2.1,"MOL38":1.7},
{"r":154,"MOL01":1.5,"MOL13":4.8,"MOL17":2.7,"MOL38":1.6},
{"r":158,"MOL01":1.3,"MOL13":3.5,"MOL17":1.6,"MOL38":1.2},
{"r":162,"MOL01":1.0,"MOL13":2.2,"MOL17":1.3,"MOL38":1.1},
{"r":166,"MOL01":0.8,"MOL13":1.3,"MOL17":1.0,"MOL38":0.9},
{"r":170,"MOL01":1.0,"MOL13":1.6,"MOL17":1.1,"MOL38":0.9},
{"r":174,"MOL01":0.9,"MOL13":1.9,"MOL17":1.2,"MOL38":1.0},
{"r":178,"MOL01":0.7,"MOL13":1.0,"MOL17":0.8,"MOL38":0.7},
{"r":182,"MOL01":0.8,"MOL13":0.9,"MOL17":0.7,"MOL38":0.8},
{"r":186,"MOL01":0.6,"MOL13":0.8,"MOL17":0.7,"MOL38":0.7},
{"r":190,"MOL01":0.7,"MOL13":0.7,"MOL17":0.8,"MOL38":0.6},
{"r":194,"MOL01":0.9,"MOL13":0.8,"MOL17":0.8,"MOL38":1.1},
{"r":198,"MOL01":1.2,"MOL13":1.1,"MOL17":1.3,"MOL38":1.4},
{"r":202,"MOL01":1.4,"MOL13":1.2,"MOL17":1.3,"MOL38":2.0},
{"r":206,"MOL01":1.0,"MOL13":1.1,"MOL17":0.9,"MOL38":1.2},
{"r":210,"MOL01":1.3,"MOL13":1.4,"MOL17":1.2,"MOL38":1.5},
{"r":214,"MOL01":0.9,"MOL13":1.0,"MOL17":1.1,"MOL38":0.9},
{"r":218,"MOL01":1.2,"MOL13":1.1,"MOL17":1.0,"MOL38":1.3},
{"r":222,"MOL01":0.8,"MOL13":0.9,"MOL17":0.9,"MOL38":0.8},
{"r":226,"MOL01":1.0,"MOL13":1.2,"MOL17":1.1,"MOL38":1.1},
{"r":230,"MOL01":0.9,"MOL13":1.0,"MOL17":1.1,"MOL38":0.9},
{"r":234,"MOL01":1.3,"MOL13":1.5,"MOL17":1.2,"MOL38":1.4},
{"r":238,"MOL01":1.8,"MOL13":2.3,"MOL17":1.9,"MOL38":1.7},
{"r":242,"MOL01":1.4,"MOL13":1.6,"MOL17":1.5,"MOL38":1.3},
{"r":246,"MOL01":0.9,"MOL13":1.0,"MOL17":1.1,"MOL38":0.8},
{"r":250,"MOL01":1.2,"MOL13":1.5,"MOL17":1.4,"MOL38":1.1},
{"r":254,"MOL01":0.8,"MOL13":0.9,"MOL17":1.0,"MOL38":0.8},
{"r":258,"MOL01":1.0,"MOL13":1.1,"MOL17":1.8,"MOL38":0.9},
{"r":262,"MOL01":0.8,"MOL13":0.9,"MOL17":1.0,"MOL38":0.8},
{"r":266,"MOL01":1.1,"MOL13":1.2,"MOL17":1.0,"MOL38":1.3},
{"r":270,"MOL01":1.3,"MOL13":1.5,"MOL17":1.4,"MOL38":1.2},
{"r":274,"MOL01":1.6,"MOL13":2.3,"MOL17":1.8,"MOL38":1.5},
{"r":278,"MOL01":1.2,"MOL13":1.4,"MOL17":1.3,"MOL38":1.1},
{"r":282,"MOL01":0.9,"MOL13":1.0,"MOL17":1.1,"MOL38":0.9},
{"r":286,"MOL01":1.4,"MOL13":1.8,"MOL17":1.5,"MOL38":1.3},
{"r":290,"MOL01":0.9,"MOL13":1.0,"MOL17":1.1,"MOL38":1.0},
{"r":294,"MOL01":0.8,"MOL13":0.9,"MOL17":0.9,"MOL38":0.8},
{"r":298,"MOL01":1.2,"MOL13":1.7,"MOL17":1.6,"MOL38":1.1},
{"r":302,"MOL01":0.9,"MOL13":1.2,"MOL17":1.1,"MOL38":0.8},
{"r":306,"MOL01":1.4,"MOL13":3.5,"MOL17":3.7,"MOL38":1.3},
{"r":310,"MOL01":1.0,"MOL13":2.6,"MOL17":2.4,"MOL38":0.9},
{"r":314,"MOL01":0.8,"MOL13":2.4,"MOL17":1.5,"MOL38":0.9},
{"r":318,"MOL01":0.7,"MOL13":1.2,"MOL17":1.0,"MOL38":0.8},
{"r":322,"MOL01":0.6,"MOL13":0.8,"MOL17":0.7,"MOL38":0.7},
{"r":326,"MOL01":0.8,"MOL13":0.9,"MOL17":0.8,"MOL38":0.7},
{"r":330,"MOL01":0.7,"MOL13":1.0,"MOL17":0.9,"MOL38":0.8},
{"r":334,"MOL01":1.0,"MOL13":1.2,"MOL17":1.7,"MOL38":0.9},
{"r":338,"MOL01":0.8,"MOL13":1.5,"MOL17":1.2,"MOL38":1.0},
{"r":342,"MOL01":1.2,"MOL13":2.0,"MOL17":1.4,"MOL38":1.5},
{"r":346,"MOL01":3.5,"MOL13":4.0,"MOL17":1.6,"MOL38":3.0},
{"r":350,"MOL01":6.3,"MOL13":5.3,"MOL17":2.0,"MOL38":5.0},
{"r":354,"MOL01":4.0,"MOL13":5.0,"MOL17":1.5,"MOL38":3.8},
{"r":358,"MOL01":1.4,"MOL13":2.0,"MOL17":1.2,"MOL38":1.3},
{"r":362,"MOL01":2.8,"MOL13":2.4,"MOL17":1.6,"MOL38":2.0},
{"r":366,"MOL01":1.6,"MOL13":3.0,"MOL17":1.3,"MOL38":1.5},
{"r":370,"MOL01":1.2,"MOL13":2.0,"MOL17":1.1,"MOL38":1.3},
{"r":374,"MOL01":0.9,"MOL13":1.6,"MOL17":1.0,"MOL38":1.1},
{"r":378,"MOL01":1.1,"MOL13":2.5,"MOL17":1.3,"MOL38":1.0},
{"r":382,"MOL01":1.0,"MOL13":2.0,"MOL17":1.2,"MOL38":1.1},
{"r":386,"MOL01":0.7,"MOL13":1.3,"MOL17":0.8,"MOL38":0.8},
{"r":390,"MOL01":0.8,"MOL13":1.2,"MOL17":0.9,"MOL38":0.7},
{"r":394,"MOL01":0.6,"MOL13":0.7,"MOL17":0.7,"MOL38":0.6},
{"r":398,"MOL01":0.8,"MOL13":0.7,"MOL17":0.8,"MOL38":0.9},
{"r":402,"MOL01":0.7,"MOL13":0.8,"MOL17":0.7,"MOL38":0.8},
{"r":406,"MOL01":1.0,"MOL13":0.9,"MOL17":0.9,"MOL38":1.0},
{"r":410,"MOL01":0.8,"MOL13":0.9,"MOL17":0.8,"MOL38":0.9},
{"r":414,"MOL01":0.9,"MOL13":0.8,"MOL17":0.9,"MOL38":0.8},
{"r":418,"MOL01":0.7,"MOL13":0.8,"MOL17":0.7,"MOL38":0.7},
{"r":422,"MOL01":1.6,"MOL13":1.4,"MOL17":1.3,"MOL38":1.5},
{"r":426,"MOL01":0.8,"MOL13":0.9,"MOL17":0.8,"MOL38":0.9},
{"r":430,"MOL01":1.0,"MOL13":1.2,"MOL17":1.1,"MOL38":1.0},
{"r":434,"MOL01":1.8,"MOL13":2.9,"MOL17":2.0,"MOL38":1.7},
{"r":438,"MOL01":1.0,"MOL13":1.1,"MOL17":1.2,"MOL38":1.0},
{"r":442,"MOL01":0.8,"MOL13":0.9,"MOL17":0.9,"MOL38":0.8},
{"r":446,"MOL01":1.0,"MOL13":1.1,"MOL17":1.0,"MOL38":0.9},
{"r":450,"MOL01":1.2,"MOL13":1.1,"MOL17":1.3,"MOL38":1.2},
{"r":454,"MOL01":1.5,"MOL13":1.4,"MOL17":1.6,"MOL38":1.5},
{"r":458,"MOL01":3.1,"MOL13":2.2,"MOL17":2.5,"MOL38":2.9},
{"r":462,"MOL01":2.4,"MOL13":2.0,"MOL17":1.9,"MOL38":2.2},
{"r":466,"MOL01":1.5,"MOL13":1.4,"MOL17":1.6,"MOL38":2.5},
{"r":470,"MOL01":2.0,"MOL13":1.8,"MOL17":1.7,"MOL38":1.9},
{"r":474,"MOL01":1.2,"MOL13":1.3,"MOL17":1.4,"MOL38":1.1},
{"r":478,"MOL01":1.0,"MOL13":1.1,"MOL17":0.9,"MOL38":1.0},
{"r":482,"MOL01":1.9,"MOL13":1.7,"MOL17":1.6,"MOL38":1.9},
{"r":486,"MOL01":1.8,"MOL13":1.5,"MOL17":1.6,"MOL38":1.7},
{"r":490,"MOL01":0.8,"MOL13":0.9,"MOL17":0.9,"MOL38":0.7},
{"r":494,"MOL01":1.5,"MOL13":1.3,"MOL17":1.2,"MOL38":1.4}
]
},
"columns": 2,
"align": "each",
"spacing": {"row": -0.5, "column": 4},
"resolve": {"scale": {"color": "independent"}, "legend": {"color": "independent"}},
"concat": [
{
  "width": 323, "height": 177,
  "encoding": {
    "x": {"type": "quantitative", "scale": {"domain": [-4.8, 103.4], "nice": false, "zero": false}, "axis": {"values": [0, 20, 40, 60, 80, 100], "title": "Time (ns)"}},
    "y": {"type": "quantitative", "scale": {"domain": [0, 22], "nice": false}, "axis": {"values": [0, 2.5, 5, 7.5, 10, 12.5, 15, 17.5, 20], "format": ".1f", "title": "RMSD (Å)"}}
  },
  "layer": [
    {"data": {"name": "a"},
     "transform": [{"fold": ["MOL01", "MOL13", "MOL38", "MOL49"], "as": ["series", "value"]}],
     "mark": {"type": "line", "strokeWidth": 1, "opacity": 0.85},
     "encoding": {
       "x": {"field": "t"},
       "y": {"field": "value"},
       "color": {"field": "series", "type": "nominal", "scale": {"domain": ["MOL01", "MOL13", "MOL38", "MOL49"], "range": ["#4a72b0", "#3d9e35", "#9ecbec", "#b878b2"]}, "legend": {"title": null}}
     }},
    {"data": {"values": [{}]},
     "mark": {"type": "text", "align": "left", "baseline": "middle", "fontSize": 12, "color": "#262626"},
     "encoding": {"x": {"datum": -1.8}, "y": {"datum": 20.0}, "text": {"value": "(A)"}}}
  ]
},
{
  "width": 329, "height": 177,
  "encoding": {
    "x": {"type": "quantitative", "scale": {"domain": [-5, 105], "nice": false, "zero": false}, "axis": {"values": [0, 20, 40, 60, 80, 100], "title": "Time (ns)"}},
    "y": {"type": "quantitative", "scale": {"domain": [0, 14], "nice": false}, "axis": {"values": [0, 2, 4, 6, 8, 10, 12, 14], "title": "RMSD (Å)"}}
  },
  "layer": [
    {"data": {"name": "b"},
     "transform": [{"fold": ["MOL01", "MOL13", "MOL17", "MOL38"], "as": ["series", "value"]}],
     "mark": {"type": "line", "strokeWidth": 1, "opacity": 0.85},
     "encoding": {
       "x": {"field": "t"},
       "y": {"field": "value"},
       "color": {"field": "series", "type": "nominal", "scale": {"domain": ["MOL01", "MOL13", "MOL17", "MOL38"], "range": ["#4a72b0", "#3d9e35", "#a86a4c", "#9ecbec"]}, "legend": {"title": null}}
     }},
    {"data": {"values": [{}]},
     "mark": {"type": "text", "align": "left", "baseline": "middle", "fontSize": 12, "color": "#262626"},
     "encoding": {"x": {"datum": -0.9}, "y": {"datum": 12.9}, "text": {"value": "(B)"}}}
  ]
},
{
  "width": 323, "height": 175,
  "encoding": {
    "x": {"type": "quantitative", "scale": {"domain": [920, 1886], "nice": false, "zero": false}, "axis": {"values": [1000, 1200, 1400, 1600, 1800], "format": "d", "title": "Amino acid"}},
    "y": {"type": "quantitative", "scale": {"domain": [0, 12], "nice": false}, "axis": {"values": [0, 2, 4, 6, 8, 10, 12], "title": "RMSF (Å)"}}
  },
  "layer": [
    {"data": {"name": "c"},
     "transform": [{"fold": ["MOL01", "MOL13", "MOL38", "MOL49"], "as": ["series", "value"]}],
     "mark": {"type": "line", "strokeWidth": 1, "opacity": 0.85},
     "encoding": {
       "x": {"field": "r"},
       "y": {"field": "value"},
       "color": {"field": "series", "type": "nominal", "scale": {"domain": ["MOL01", "MOL13", "MOL38", "MOL49"], "range": ["#4a72b0", "#3d9e35", "#9ecbec", "#b878b2"]}, "legend": {"title": null}}
     }},
    {"data": {"values": [{}]},
     "mark": {"type": "text", "align": "left", "baseline": "middle", "fontSize": 12, "color": "#262626"},
     "encoding": {"x": {"datum": 947}, "y": {"datum": 11.0}, "text": {"value": "(C)"}}}
  ]
},
{
  "width": 329, "height": 175,
  "encoding": {
    "x": {"type": "quantitative", "scale": {"domain": [-23, 520], "nice": false, "zero": false}, "axis": {"values": [0, 100, 200, 300, 400, 500], "title": "Amino acid"}},
    "y": {"type": "quantitative", "scale": {"domain": [0, 12], "nice": false}, "axis": {"values": [0, 2, 4, 6, 8, 10, 12], "title": "RMSF (Å)"}}
  },
  "layer": [
    {"data": {"name": "d"},
     "transform": [{"fold": ["MOL01", "MOL13", "MOL17", "MOL38"], "as": ["series", "value"]}],
     "mark": {"type": "line", "strokeWidth": 1, "opacity": 0.85},
     "encoding": {
       "x": {"field": "r"},
       "y": {"field": "value"},
       "color": {"field": "series", "type": "nominal", "scale": {"domain": ["MOL01", "MOL13", "MOL17", "MOL38"], "range": ["#4a72b0", "#3d9e35", "#a86a4c", "#9ecbec"]}, "legend": {"title": null}}
     }},
    {"data": {"values": [{}]},
     "mark": {"type": "text", "align": "left", "baseline": "middle", "fontSize": 12, "color": "#262626"},
     "encoding": {"x": {"datum": -1.6}, "y": {"datum": 11.0}, "text": {"value": "(D)"}}}
  ]
}
]
}
